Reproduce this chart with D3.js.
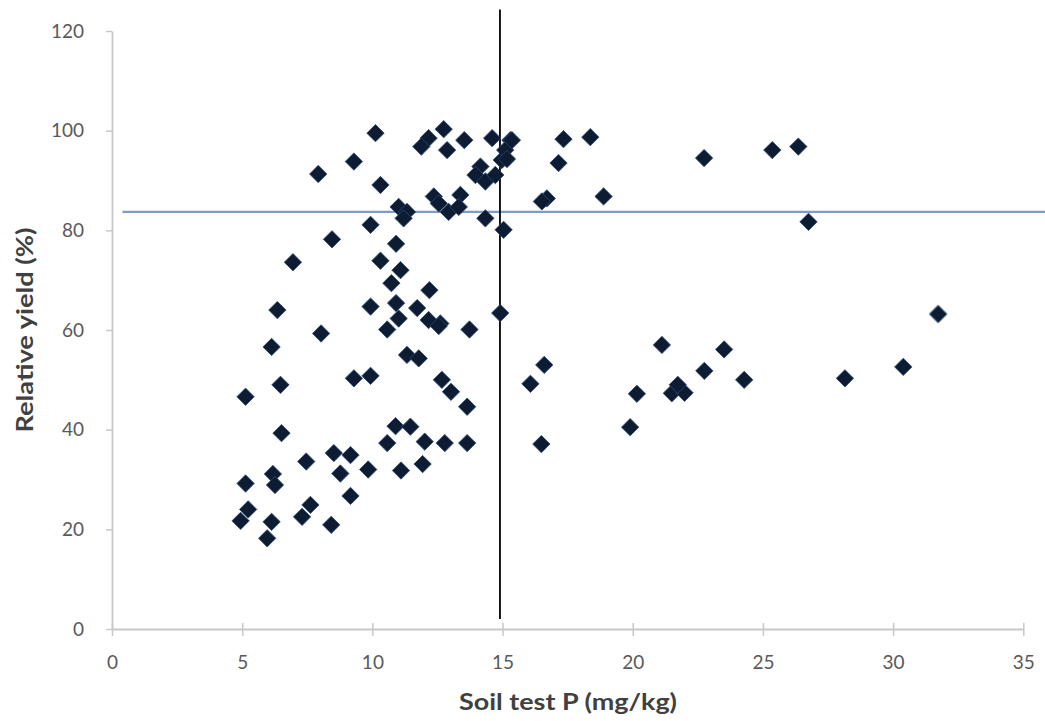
<!DOCTYPE html>
<html><head><meta charset="utf-8">
<script src="https://cdn.jsdelivr.net/npm/d3@7"></script>
<style>body{margin:0;background:#fff}svg{display:block}</style>
</head><body>
<svg id="c" width="1045" height="721"></svg>
<script>
const soilP = [10.12,12.74,12.16,11.88,12.87,13.53,14.6,15.3,9.29,7.92,10.31,14.15,13.96,14.34,14.72,14.97,15.1,15.17,15.36,
 12.36,12.55,13.38,12.93,13.32,11.01,11.33,11.2,14.34,15.04,9.93,8.45,10.91,6.95,10.31,11.08,10.73,12.19,6.35,9.93,10.91,11.72,
 17.34,18.37,17.15,22.74,25.36,26.36,16.7,16.51,18.88,26.75,14.91,13.73,12.61,
 11.01,10.57,12.16,12.55,8.03,6.13,11.33,11.78,6.47,5.13,9.29,9.93,12.67,13.02,13.64,6.51,10.89,11.46,10.57,12.01,12.78,13.64,
 8.52,9.16,7.46,8.77,9.84,11.1,11.93,6.18,6.26,5.13,9.16,7.62,7.3,5.23,4.94,6.13,8.42,5.96,
 31.73,21.12,23.51,16.6,16.07,22.75,24.28,28.15,30.39,20.16,21.5,21.99,21.73,19.9,16.49];
const relYield = [99.5,100.3,98.5,96.8,96.1,98.1,98.5,98.1,93.8,91.3,89.1,92.8,91.1,89.8,91.1,94.1,96.1,94.3,98.1,
 86.8,85.4,87.1,83.7,84.7,84.7,83.7,82.4,82.4,80.1,81.1,78.2,77.3,73.6,73.9,72.0,69.4,68.0,64.0,64.7,65.4,64.4,
 98.3,98.7,93.5,94.5,96.1,96.8,86.4,85.8,86.8,81.7,63.4,60.1,61.3,
 62.3,60.1,62.0,60.8,59.3,56.6,55.0,54.3,49.0,46.6,50.3,50.8,50.0,47.6,44.6,39.3,40.7,40.6,37.3,37.6,37.3,37.3,
 35.3,34.9,33.6,31.2,32.0,31.8,33.1,31.1,28.9,29.2,26.7,24.9,22.5,24.0,21.7,21.5,20.9,18.2,
 63.2,57.0,56.1,53.0,49.2,51.8,50.0,50.3,52.6,47.2,47.3,47.4,49.0,40.5,37.1];
const xTicks = [0,5,10,15,20,25,30,35];
const yTicks = [0,20,40,60,80,100,120];
const criticalP = 14.9;      // vertical line
const criticalYield = 83.7;  // horizontal line
const xLabel = "Soil test P (mg/kg)";
const yLabel = "Relative yield (%)";

const svg = d3.select("#c");
const defs = svg.append("defs");
defs.append("filter").attr("id","soft").append("feGaussianBlur").attr("stdDeviation",0.6);

const x = d3.scaleLinear().domain([0,35]).range([112,1023.3]);
const y = d3.scaleLinear().domain([0,120]).range([629,31]);
const font = "Lato, 'Open Sans', sans-serif";
const axisCol = "#c8c8c8";

const xAxis = svg.append("g").attr("transform","translate(0,629)")
  .call(d3.axisBottom(x).tickValues(xTicks).tickSize(7).tickPadding(20).tickSizeOuter(0));
xAxis.selectAll(".tick line").attr("y1",-6);
const yAxis = svg.append("g").attr("transform","translate(112,0)")
  .call(d3.axisLeft(y).tickValues(yTicks).tickSize(6).tickPadding(22).tickSizeOuter(0));
[xAxis,yAxis].forEach(a=>{
  a.select(".domain").attr("stroke",axisCol).attr("stroke-width",1.8);
  a.selectAll(".tick line").attr("stroke",axisCol).attr("stroke-width",1.5);
  a.selectAll(".tick text").attr("fill","#595959").attr("font-family",font).attr("font-size",19);
});

// horizontal critical yield line
svg.append("line")
  .attr("x1",x(0.4)).attr("x2",x(36.5))
  .attr("y1",y(criticalYield)).attr("y2",y(criticalYield))
  .attr("stroke","#7f9cc4").attr("stroke-width",2.2);

// vertical critical P line
svg.append("line")
  .attr("x1",x(criticalP)).attr("x2",x(criticalP))
  .attr("y1",y(124.3)).attr("y2",y(2))
  .attr("stroke","#000").attr("stroke-width",1.8);

const sym = d3.symbol().type(d3.symbolSquare).size(150);
svg.append("g").attr("filter","url(#soft)")
  .selectAll("path").data(soilP.map((p,i)=>[p,relYield[i]])).join("path")
  .attr("d",sym)
  .attr("transform",d=>`translate(${x(d[0])},${y(d[1])}) rotate(45)`)
  .attr("fill","#0b1a30").attr("stroke","#2a4a70").attr("stroke-width",0.8);

svg.append("text").attr("x",568).attr("y",710).attr("text-anchor","middle")
  .attr("font-family",font).attr("font-weight","bold").attr("font-size",23).attr("fill","#404040")
  .attr("textLength",218).attr("lengthAdjust","spacingAndGlyphs")
  .text(xLabel);
svg.append("text").attr("transform",`translate(33,${y(60)}) rotate(-90)`).attr("text-anchor","middle")
  .attr("font-family",font).attr("font-weight","bold").attr("font-size",23).attr("fill","#404040")
  .attr("textLength",205).attr("lengthAdjust","spacingAndGlyphs")
  .text(yLabel);
</script>
</body></html>
